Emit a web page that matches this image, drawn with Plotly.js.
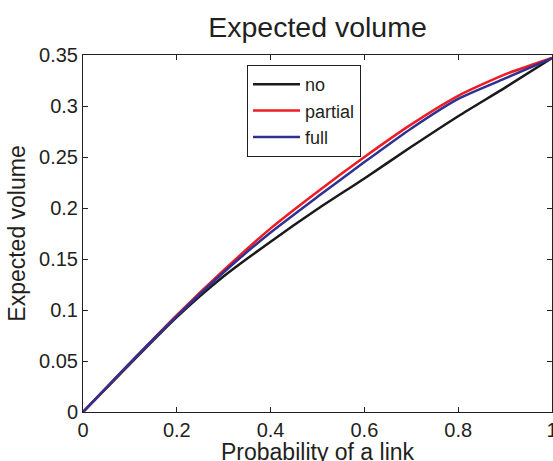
<!DOCTYPE html>
<html>
<head>
<meta charset="utf-8">
<script src="https://cdn.plot.ly/plotly-3.0.1.min.js"></script>
<style>
html,body{margin:0;padding:0;background:#fff;}
#chart{width:553px;height:461px;}
</style>
</head>
<body>
<div id="chart"></div>
<script>
// Data
var probLink = [0, 0.1, 0.2, 0.3, 0.4, 0.5, 0.6, 0.7, 0.8, 0.9, 1.0];
var volNo      = [0, 0.047, 0.093, 0.133, 0.167, 0.199, 0.229, 0.260, 0.290, 0.318, 0.347];
var volPartial = [0, 0.048, 0.095, 0.139, 0.180, 0.216, 0.250, 0.282, 0.310, 0.331, 0.347];
var volFull    = [0, 0.048, 0.094, 0.137, 0.176, 0.211, 0.245, 0.278, 0.307, 0.327, 0.347];
var seriesNames = ['no', 'partial', 'full'];
var xTicks = [0, 0.2, 0.4, 0.6, 0.8, 1];
var xTickText = ['0', '0.2', '0.4', '0.6', '0.8', '1'];
var yTicks = [0, 0.05, 0.1, 0.15, 0.2, 0.25, 0.3, 0.35];
var yTickText = ['0', '0.05', '0.1', '0.15', '0.2', '0.25', '0.3', '0.35'];
var xTitle = 'Probability of a link';
var yTitle = 'Expected volume';
var chartTitle = 'Expected volume';

var FONT = '"Liberation Sans", Arial, Helvetica, sans-serif';
var TXT = '#231f20';

function tr(y, name, color) {
  return {
    x: probLink, y: y, name: name, type: 'scatter', mode: 'lines',
    line: {color: color, width: 2.5, shape: 'spline', smoothing: 0.6},
    hoverinfo: 'skip'
  };
}

var data = [
  tr(volNo, seriesNames[0], '#1a1a1a'),
  tr(volPartial, seriesNames[1], '#ed1c24'),
  tr(volFull, seriesNames[2], '#2e3192')
];

var axisCommon = {
  showline: true, linecolor: '#231f20', linewidth: 1, mirror: 'ticks',
  ticks: 'inside', ticklen: 5, tickwidth: 1, tickcolor: '#231f20',
  showgrid: false, zeroline: false, tickmode: 'array',
  tickfont: {family: FONT, size: 20, color: TXT},
  ticklabeloverflow: 'allow',
  automargin: false, fixedrange: true
};

var layout = {
  width: 553, height: 461,
  margin: {l: 83, r: 1, t: 55, b: 49, pad: 0},
  paper_bgcolor: '#ffffff', plot_bgcolor: '#ffffff',
  font: {family: FONT, color: TXT},
  showlegend: true,
  title: {
    text: chartTitle,
    font: {family: FONT, size: 28.5, color: TXT},
    x: 0.5, xref: 'paper', xanchor: 'center',
    y: 0.9414, yref: 'container', yanchor: 'middle'
  },
  xaxis: Object.assign({}, axisCommon, {
    range: [0, 1], tickvals: xTicks, ticktext: xTickText
  }),
  yaxis: Object.assign({}, axisCommon, {
    range: [0, 0.35], tickvals: yTicks, ticktext: yTickText,
    title: {text: yTitle, font: {family: FONT, size: 23, color: TXT}, standoff: 7}
  }),
  annotations: [{
    text: xTitle, xref: 'paper', yref: 'paper', x: 0.5, y: 0,
    xanchor: 'center', yanchor: 'top', yshift: -25, showarrow: false,
    font: {family: FONT, size: 23, color: TXT}
  }],
  legend: {
    x: 0.3497, y: 0.972, xanchor: 'left', yanchor: 'top',
    xref: 'paper', yref: 'paper',
    bgcolor: '#ffffff', bordercolor: '#231f20', borderwidth: 1,
    font: {family: FONT, size: 18, color: TXT},
    itemwidth: 47, tracegroupgap: 0
  }
};

Plotly.newPlot('chart', data, layout, {displayModeBar: false, staticPlot: true});
</script>
</body>
</html>
